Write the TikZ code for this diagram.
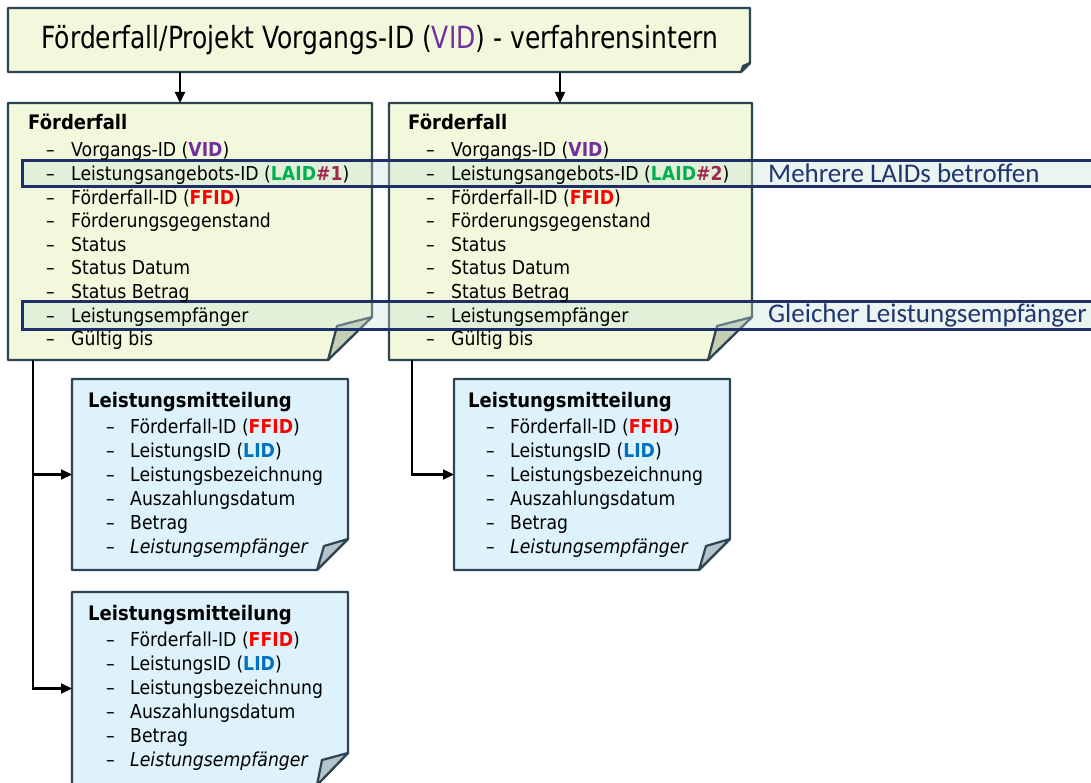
\documentclass[tikz,border=0pt]{standalone}
\usepackage{fontspec}
\usetikzlibrary{arrows.meta}
\newfontfamily\boxf[FakeStretch=0.9]{DejaVu Sans}
\newfontfamily\titlef[FakeStretch=0.82]{DejaVu Sans}
\newfontfamily\labf{Carlito}
\definecolor{edge}{HTML}{2E4452}
\definecolor{ffill}{HTML}{F1F8DB}
\definecolor{bfill}{HTML}{DDF2FA}
\definecolor{fflap}{HTML}{C5CDB5}
\definecolor{bflap}{HTML}{B5C4CA}
\definecolor{navy}{HTML}{1F3068}
\definecolor{labcol}{HTML}{1F3670}
\definecolor{barfill}{RGB}{200,225,215}
\definecolor{vidc}{HTML}{7030A0}
\definecolor{laidc}{HTML}{00B050}
\definecolor{numc}{HTML}{A0284F}
\definecolor{ffidc}{HTML}{FF0000}
\definecolor{lidc}{HTML}{0070C0}
\newcommand\foldbox[7]{%
  \path[draw=edge, line width=2.2pt, fill=#2, line join=round]
    (#1.north west) -- (#1.north east) -- ([yshift=#5pt]#1.south east)
    -- ([xshift=-#4pt]#1.south east) -- (#1.south west) -- cycle;
  \path[draw=edge, line width=2.2pt, fill=#3, line join=round]
    ([yshift=#5pt]#1.south east) -- ([shift={(-#6pt,#7pt)}]#1.south east)
    -- ([xshift=-#4pt]#1.south east) -- cycle;
}
\begin{document}
\begin{tikzpicture}[x=1pt,y=-1pt,
  frame/.style={rectangle, draw=none, inner sep=0pt, outer sep=0pt},
  hdr/.style={anchor=base west, inner sep=0pt, font=\boxf\bfseries\fontsize{20}{24}\selectfont},
  itm/.style={anchor=base west, inner sep=0pt, font=\boxf\fontsize{19.2}{23.6}\selectfont},
  lab/.style={anchor=base west, inner sep=0pt, text=labcol, font=\labf\fontsize{27}{30}\selectfont},
  bar/.style={rectangle, draw=navy, line width=3pt, fill=barfill, fill opacity=0.35, inner sep=0pt, outer sep=0pt, anchor=north west},
  arr/.style={draw=black, line width=2.2pt, -{Triangle[length=11pt,width=10pt]}},
  tree/.style={draw=black, line width=2.2pt, -{Triangle[length=11pt,width=10pt]}}
]
\useasboundingbox (0,0) rectangle (1091,783);
\fill[white] (0,0) rectangle (1091,783);

% frames
\node[frame, minimum width=742pt, minimum height=64pt] (tbox) at (379,40) {};
\node[frame, minimum width=364pt, minimum height=257pt] (ff1) at (190,231.5) {};
\node[frame, minimum width=363pt, minimum height=257pt] (ff2) at (570.5,231.5) {};
\node[frame, minimum width=276pt, minimum height=191pt] (lm1) at (210,474.5) {};
\node[frame, minimum width=276pt, minimum height=193pt] (lm2) at (210,688.5) {};
\node[frame, minimum width=276pt, minimum height=191pt] (lm3) at (592,474.5) {};

\foldbox{tbox}{ffill}{fflap}{9}{9}{7}{6}
\foldbox{ff1}{ffill}{fflap}{44}{43}{35}{34}
\foldbox{ff2}{ffill}{fflap}{44}{43}{35}{34}
\foldbox{lm1}{bfill}{bflap}{31}{31}{24}{24}
\foldbox{lm2}{bfill}{bflap}{31}{32}{26}{25}
\foldbox{lm3}{bfill}{bflap}{31}{31}{24}{24}

% highlight bars (behind the texts)
\node[bar, minimum width=1090pt, minimum height=26pt] (bar1) at (22,160.5) {};
\node[bar, minimum width=1090pt, minimum height=28pt] (bar2) at (22,301.5) {};

% title
\node[anchor=base, inner sep=0pt, font=\titlef\fontsize{30.5}{34}\selectfont] (tt) at (380,49)
  {Förderfall/Projekt Vorgangs-ID ({\color{vidc}VID}) - verfahrensintern};

% connectors
\coordinate (a1) at ([xshift=-10pt]ff1.north);
\coordinate (a2) at ([xshift=-10.5pt]ff2.north);
\draw[arr] (a1 |- tbox.south) -- (a1);
\draw[arr] (a2 |- tbox.south) -- (a2);
\coordinate (s1) at ([xshift=25pt]ff1.south west);
\coordinate (s2) at ([xshift=23pt]ff2.south west);
\draw[tree] (s1) |- (lm1.west);
\draw[tree] (s1) |- (lm2.west);
\draw[tree] (s2) |- (lm3.west);

% Foerderfall texts
\foreach \bx/\xo/\nm in {ffa/0/1, ffb/380/2}{
  \node[hdr] (\bx-h) at (28+\xo,130) {Förderfall};
  \foreach \t [count=\i] in {
      Vorgangs-ID ({\bfseries\color{vidc}VID}),
      Leistungsangebots-ID ({\bfseries\color{laidc}LAID\color{numc}\#\nm}),
      Förderfall-ID ({\bfseries\color{ffidc}FFID}),
      Förderungsgegenstand,
      Status,
      Status Datum,
      Status Betrag,
      Leistungsempfänger,
      Gültig bis}{
    \node[itm] (\bx-\i) at (46+\xo,157+23.6*\i-23.6) {\makebox[25pt][l]{–}\t};
  }
}

% Leistungsmitteilung texts
\foreach \bx/\xo/\yo in {lma/0/0, lmb/0/213, lmc/380/0}{
  \node[hdr] (\bx-h) at (88+\xo,407+\yo) {Leistungsmitteilung};
  \foreach \t [count=\i] in {
      Förderfall-ID ({\bfseries\color{ffidc}FFID}),
      LeistungsID ({\bfseries\color{lidc}LID}),
      Leistungsbezeichnung,
      Auszahlungsdatum,
      Betrag,
      {\itshape Leistungsempfänger}}{
    \node[itm] (\bx-\i) at (106+\xo,433+\yo+24*\i-24) {\makebox[24pt][l]{–}\t};
  }
}

% labels
\node[lab] (lab1) at (768,182.5) {Mehrere LAIDs betroffen};
\node[lab] (lab2) at (768,323) {Gleicher Leistungsempfänger};
\end{tikzpicture}
\end{document}
